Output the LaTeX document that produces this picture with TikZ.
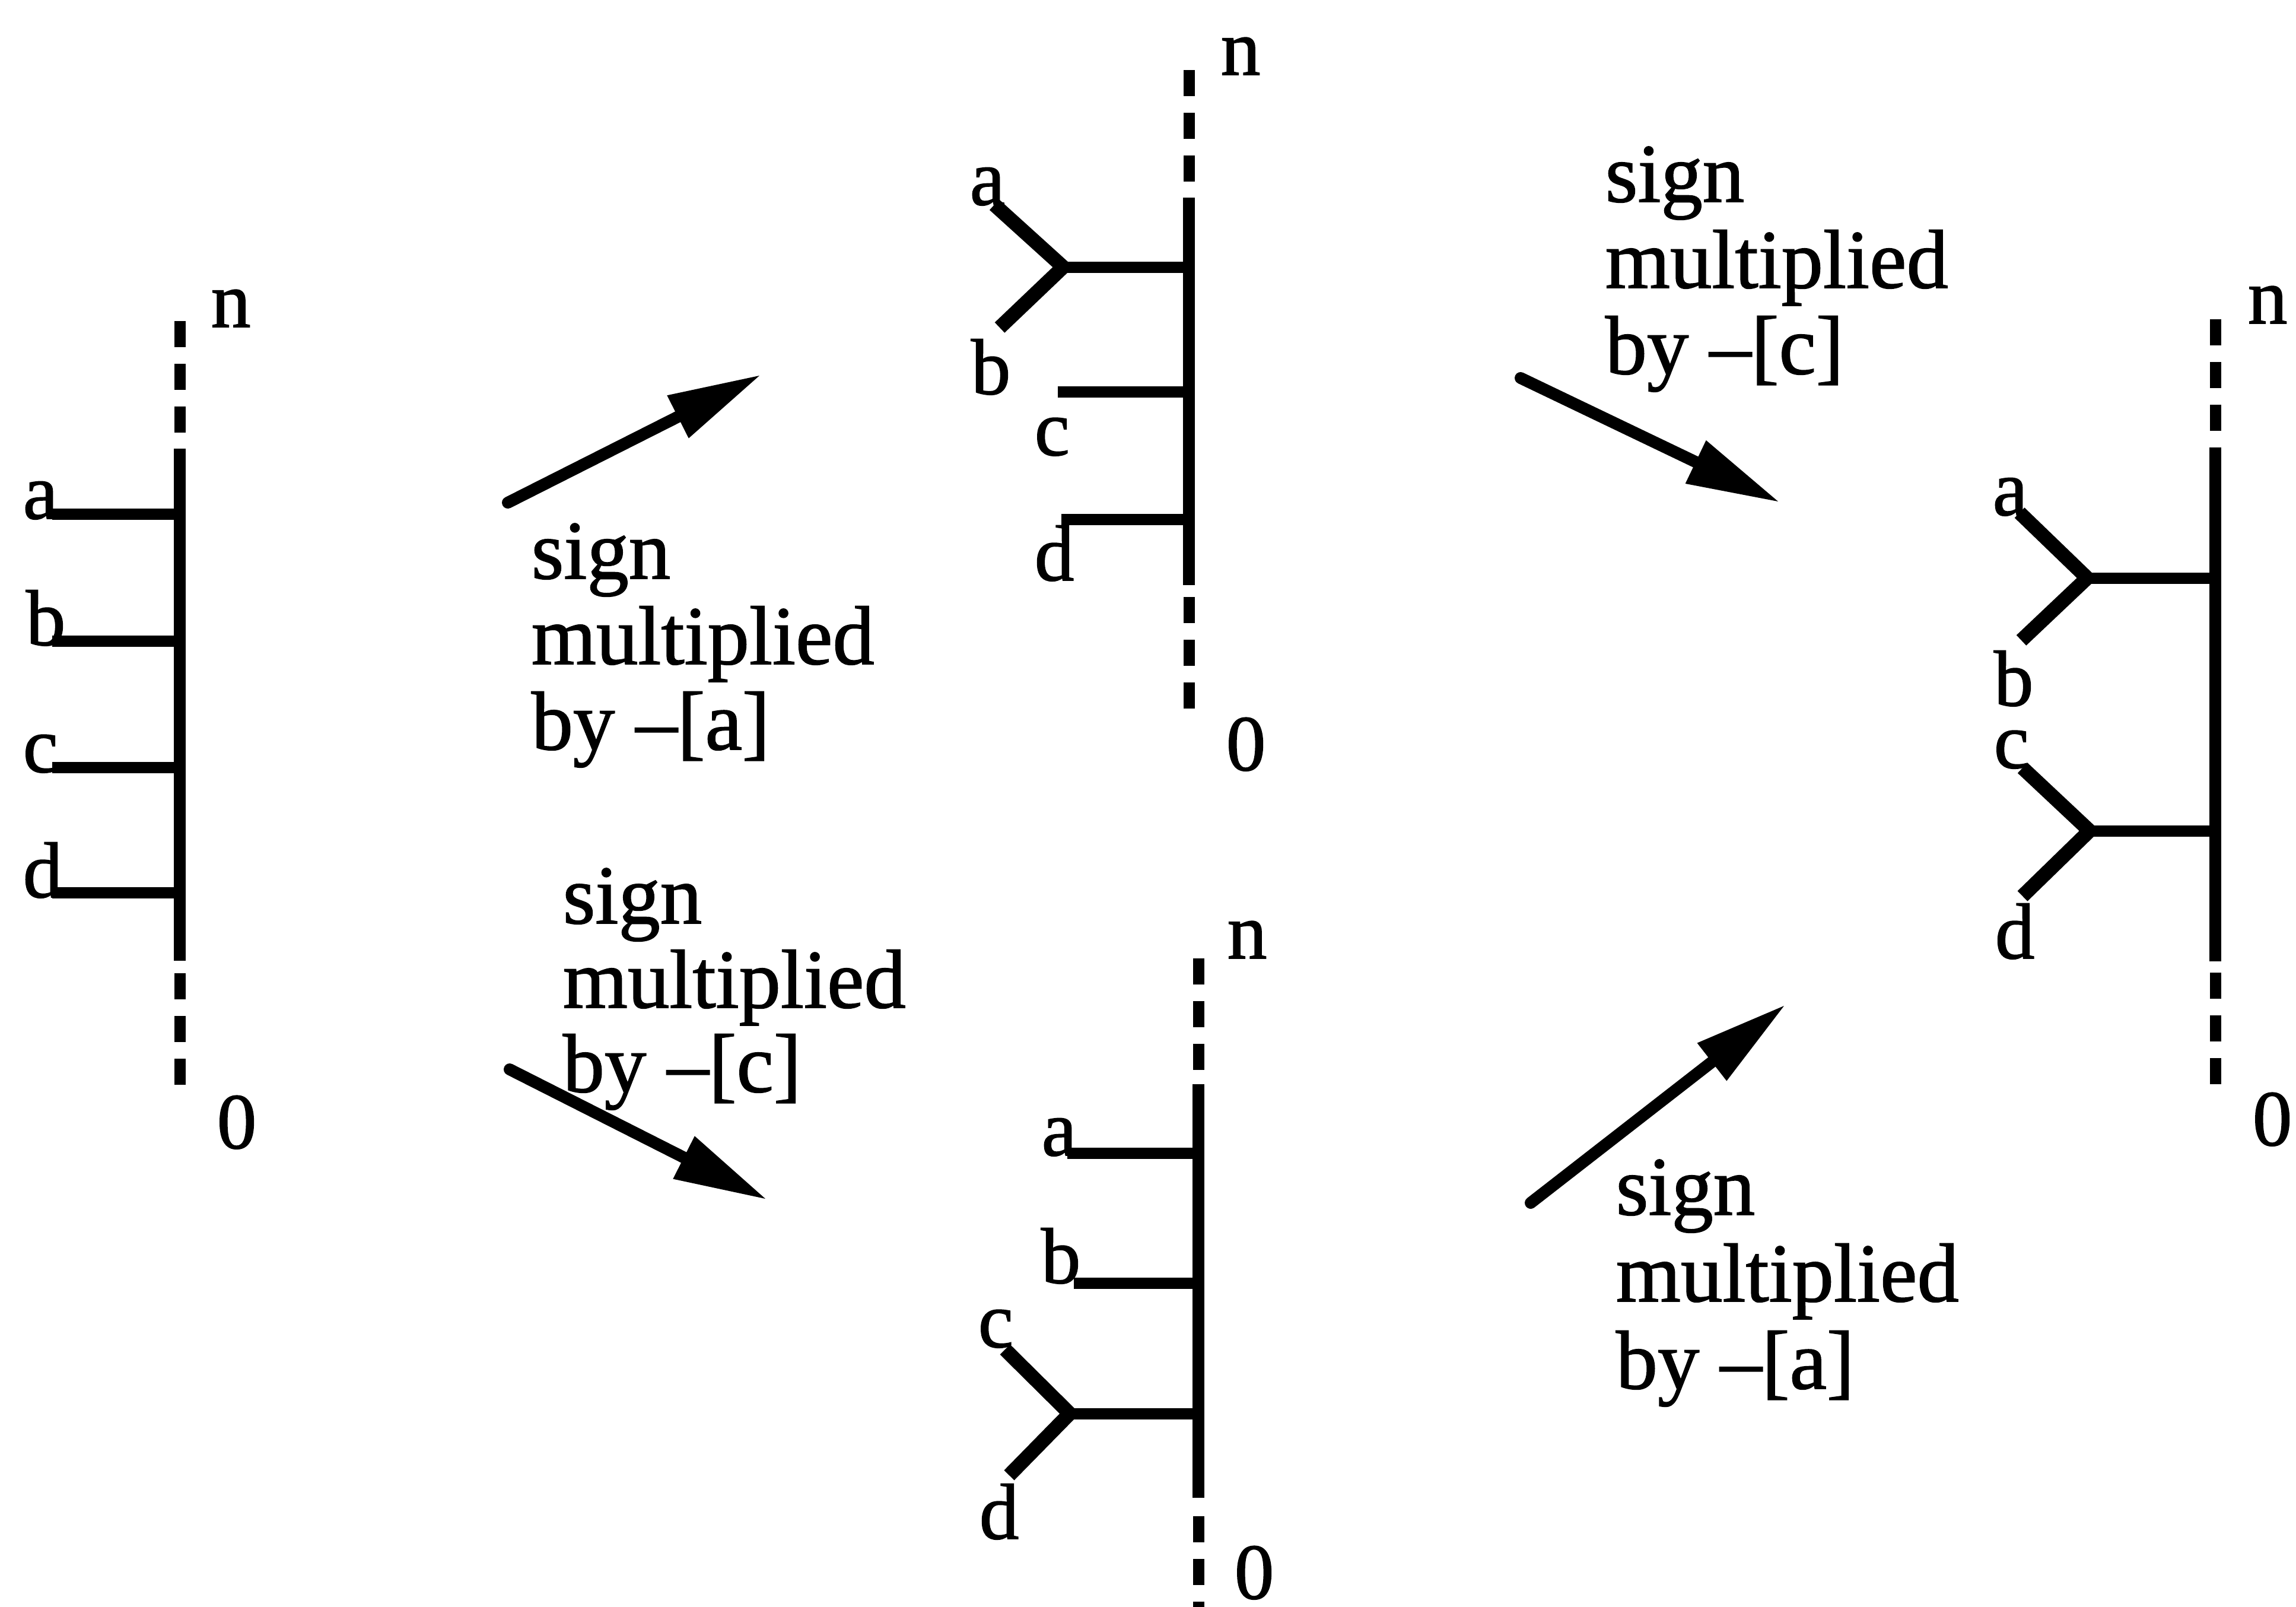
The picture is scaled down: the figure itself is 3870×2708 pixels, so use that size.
\documentclass[tikz,border=0pt]{standalone}
\usepackage{fontspec}
\setmainfont{Liberation Serif}[FakeBold=1.2]
\usetikzlibrary{arrows.meta}
\begin{document}
\begin{tikzpicture}[x=0.1mm,y=-0.1mm,
  solidspine/.style={line width=2mm},
  dashspine/.style={line width=1.9mm, dash pattern=on 4.4mm off 2.8mm},
  branch/.style={line width=1.9mm},
  arm/.style={line width=2.4mm, line join=miter},
  lbl/.style={inner sep=0pt, anchor=base west, font=\fontsize{38}{40}\selectfont},
  txt/.style={inner sep=0pt, anchor=base west, font=\fontsize{40}{41}\selectfont},
  flow/.style={line width=2mm, line cap=round, -{Triangle[length=15.4mm,width=8.1mm,line width=0pt]}}
]
\useasboundingbox (0,0) rectangle (3870,2708);

% ---------------- Diagram 1 (left) ----------------
\coordinate (d1dt) at (303,541);  \coordinate (d1de) at (303,729);
\coordinate (d1s1) at (303,756);  \coordinate (d1s2) at (303,1619);
\coordinate (d1ds) at (303,1640); \coordinate (d1db) at (303,1830);
\draw[dashspine] (d1dt) -- (d1de);
\draw[solidspine] (d1s1) -- (d1s2);
\draw[dashspine] (d1ds) -- (d1db);
\node[lbl] (d1n) at (355,551) {n};
\node[lbl] (d1z) at (365,1935) {0};
\node[lbl] (d1a) at (38,874) {a};
\node[lbl] (d1b) at (43,1087) {b};
\node[lbl] (d1c) at (38,1301) {c};
\node[lbl] (d1d) at (38,1512) {d};
\coordinate (d1aL) at (88,866);
\coordinate (d1bL) at (88,1080);
\coordinate (d1cL) at (88,1293);
\coordinate (d1dL) at (88,1504);
\draw[branch] (d1aL) -- (d1aL -| d1s1);
\draw[branch] (d1bL) -- (d1bL -| d1s1);
\draw[branch] (d1cL) -- (d1cL -| d1s1);
\draw[branch] (d1dL) -- (d1dL -| d1s1);

% ---------------- Diagram 2 (top middle) ----------------
\coordinate (d2dt) at (2004,118);  \coordinate (d2de) at (2004,306);
\coordinate (d2s1) at (2004,333);  \coordinate (d2s2) at (2004,986);
\coordinate (d2ds) at (2004,1006); \coordinate (d2db) at (2004,1196);
\draw[dashspine] (d2dt) -- (d2de);
\draw[solidspine] (d2s1) -- (d2s2);
\draw[dashspine] (d2ds) -- (d2db);
\node[lbl] (d2n) at (2057,126) {n};
\node[lbl] (d2z) at (2066,1298) {0};
\node[lbl] (d2a) at (1634,345) {a};
\node[lbl] (d2b) at (1636,664) {b};
\node[lbl] (d2c) at (1743,767) {c};
\node[lbl] (d2d) at (1743,978) {d};
\coordinate (d2J) at (1792,450);
\coordinate (d2aE) at (1676,345);
\coordinate (d2bE) at (1685,552);
\draw[arm] (d2aE) -- (d2J) -- (d2bE);
\draw[branch] (d2J) -- (d2J -| d2s1);
\coordinate (d2cL) at (1783,660);
\coordinate (d2dL) at (1789,875);
\draw[branch] (d2cL) -- (d2cL -| d2s1);
\draw[branch] (d2dL) -- (d2dL -| d2s1);

% ---------------- Diagram 3 (bottom middle) ----------------
\coordinate (d3dt) at (2020,1615); \coordinate (d3de) at (2020,1803);
\coordinate (d3s1) at (2020,1827); \coordinate (d3s2) at (2020,2524);
\coordinate (d3ds) at (2020,2555); \coordinate (d3db) at (2020,2708);
\draw[dashspine] (d3dt) -- (d3de);
\draw[solidspine] (d3s1) -- (d3s2);
\draw[dashspine] (d3ds) -- (d3db);
\node[lbl] (d3n) at (2068,1615) {n};
\node[lbl] (d3z) at (2080,2694) {0};
\node[lbl] (d3a) at (1755,1947) {a};
\node[lbl] (d3b) at (1754,2162) {b};
\node[lbl] (d3c) at (1648,2270) {c};
\node[lbl] (d3d) at (1650,2593) {d};
\coordinate (d3aL) at (1799,1943);
\coordinate (d3bL) at (1810,2162);
\draw[branch] (d3aL) -- (d3aL -| d3s1);
\draw[branch] (d3bL) -- (d3bL -| d3s1);
\coordinate (d3J) at (1803,2382);
\coordinate (d3cE) at (1694,2274);
\coordinate (d3dE) at (1701,2486);
\draw[arm] (d3cE) -- (d3J) -- (d3dE);
\draw[branch] (d3J) -- (d3J -| d3s1);

% ---------------- Diagram 4 (right) ----------------
\coordinate (d4dt) at (3734,538);  \coordinate (d4de) at (3734,726);
\coordinate (d4s1) at (3734,754);  \coordinate (d4s2) at (3734,1620);
\coordinate (d4ds) at (3734,1639); \coordinate (d4db) at (3734,1827);
\draw[dashspine] (d4dt) -- (d4de);
\draw[solidspine] (d4s1) -- (d4s2);
\draw[dashspine] (d4ds) -- (d4db);
\node[lbl] (d4n) at (3788,545) {n};
\node[lbl] (d4z) at (3796,1930) {0};
\node[lbl] (d4a) at (3358,868) {a};
\node[lbl] (d4b) at (3360,1189) {b};
\node[lbl] (d4c) at (3360,1294) {c};
\node[lbl] (d4d) at (3362,1615) {d};
\coordinate (d4J1) at (3518,974);
\coordinate (d4aE) at (3404,864);
\coordinate (d4bE) at (3407,1079);
\draw[arm] (d4aE) -- (d4J1) -- (d4bE);
\draw[branch] (d4J1) -- (d4J1 -| d4s1);
\coordinate (d4J2) at (3522,1400);
\coordinate (d4cE) at (3409,1294);
\coordinate (d4dE) at (3409,1510);
\draw[arm] (d4cE) -- (d4J2) -- (d4dE);
\draw[branch] (d4J2) -- (d4J2 -| d4s1);

% ---------------- Arrows ----------------
\coordinate (a1s) at (856,847);   \coordinate (a1e) at (1280,633);
\coordinate (a2s) at (859,1802);  \coordinate (a2e) at (1290,2020);
\coordinate (a3s) at (2563,637);  \coordinate (a3e) at (2997,845);
\coordinate (a4s) at (2580,2027); \coordinate (a4e) at (3007,1695);
\draw[flow] (a1s) -- (a1e);
\draw[flow] (a2s) -- (a2e);
\draw[flow] (a3s) -- (a3e);
\draw[flow] (a4s) -- (a4e);

% ---------------- Arrow texts ----------------
\node[txt] (t1l1) at (895,975) {sign};
\node[txt] (t1l2) at (895,1119) {multiplied};
\node[txt] (t1l3) at (895,1263) {by –[a]};

\node[txt] (t2l1) at (948,1556) {sign};
\node[txt] (t2l2) at (948,1698) {multiplied};
\node[txt] (t2l3) at (948,1840) {by –[c]};

\node[txt] (t3l1) at (2705,340) {sign};
\node[txt] (t3l2) at (2705,485) {multiplied};
\node[txt] (t3l3) at (2705,630) {by –[c]};

\node[txt] (t4l1) at (2723,2047) {sign};
\node[txt] (t4l2) at (2723,2193) {multiplied};
\node[txt] (t4l3) at (2723,2340) {by –[a]};
\end{tikzpicture}
\end{document}
